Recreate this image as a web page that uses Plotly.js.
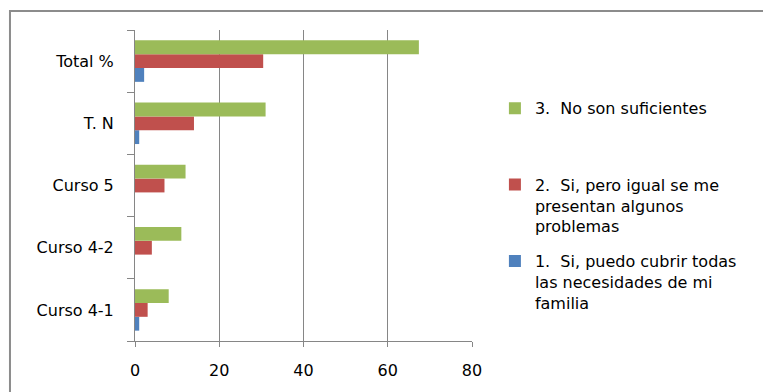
<!DOCTYPE html>
<html>
<head>
<meta charset="utf-8">
<script src="https://cdn.plot.ly/plotly-3.0.1.min.js"></script>
<style>
  html, body { margin: 0; padding: 0; background: #ffffff; }
  #chart { width: 763px; height: 392px; }
</style>
</head>
<body>
<div id="chart"></div>
<script>
// Courses, listed bottom to top on the category axis
const categories = ['Curso 4-1', 'Curso 4-2', 'Curso 5', 'T. N', 'Total %'];

// Answers per course (Total % is each answer's share of T. N)
const puedoCubrir = [1, 0, 0, 1, 2.17];
const algunosProblemas = [3, 4, 7, 14, 30.43];
const noSuficientes = [8, 11, 12, 31, 67.39];

const seriesNames = [
  '1.\u00a0 Si, puedo cubrir todas<br>las necesidades de mi<br>familia',
  '2.\u00a0 Si, pero igual se me<br>presentan algunos<br>problemas',
  '3.\u00a0 No son suficientes<br>\u00a0<br>\u00a0'
];

const xTicks = [0, 20, 40, 60, 80];

const colors = ['#4F81BD', '#C0504D', '#9BBB59'];
const gray = '#868686';

const seriesValues = [puedoCubrir, algunosProblemas, noSuficientes];

const traces = seriesValues.map((vals, i) => ({
  type: 'bar',
  orientation: 'h',
  y: categories,
  x: vals,
  name: seriesNames[i],
  legendgroup: 'g' + i,
  legendrank: 10 - i,
  marker: { color: colors[i] },
  hoverinfo: 'x+y'
}));

const layout = {
  width: 763,
  height: 392,
  margin: { l: 135, r: 291, t: 30, b: 51 },
  paper_bgcolor: '#ffffff',
  plot_bgcolor: '#ffffff',
  font: { family: 'DejaVu Sans, sans-serif', size: 16, color: '#000000' },
  barmode: 'group',
  bargap: 0.333,
  bargroupgap: 0,
  showlegend: true,
  legend: {
    x: 1.068,
    xanchor: 'left',
    y: 0.803,
    yanchor: 'top',
    traceorder: 'grouped',
    tracegroupgap: 11,
    valign: 'top',
    bgcolor: 'rgba(0,0,0,0)',
    borderwidth: 0,
    font: { size: 16 }
  },
  xaxis: {
    range: [0, 80],
    tickvals: xTicks,
    ticktext: xTicks.map(String),
    showgrid: true,
    gridcolor: gray,
    gridwidth: 1,
    zeroline: false,
    showline: true,
    linecolor: gray,
    linewidth: 1,
    ticks: 'outside',
    ticklen: 5,
    tickcolor: gray,
    ticklabelstandoff: 10,
    fixedrange: true
  },
  yaxis: {
    type: 'category',
    categoryorder: 'array',
    categoryarray: categories,
    showgrid: false,
    zeroline: false,
    showline: true,
    linecolor: gray,
    linewidth: 1,
    ticks: 'outside',
    tickson: 'boundaries',
    ticklen: 7,
    tickcolor: gray,
    ticklabelstandoff: 17,
    fixedrange: true
  },
  shapes: [{
    type: 'rect',
    xref: 'paper', yref: 'paper',
    x0: -0.371, x1: 1.9,
    y0: -0.3, y1: 1.061,
    line: { color: '#8c8c8c', width: 2 },
    fillcolor: 'rgba(0,0,0,0)',
    layer: 'below'
  }]
};

Plotly.newPlot('chart', traces, layout, { displayModeBar: false, staticPlot: true });
</script>
</body>
</html>
